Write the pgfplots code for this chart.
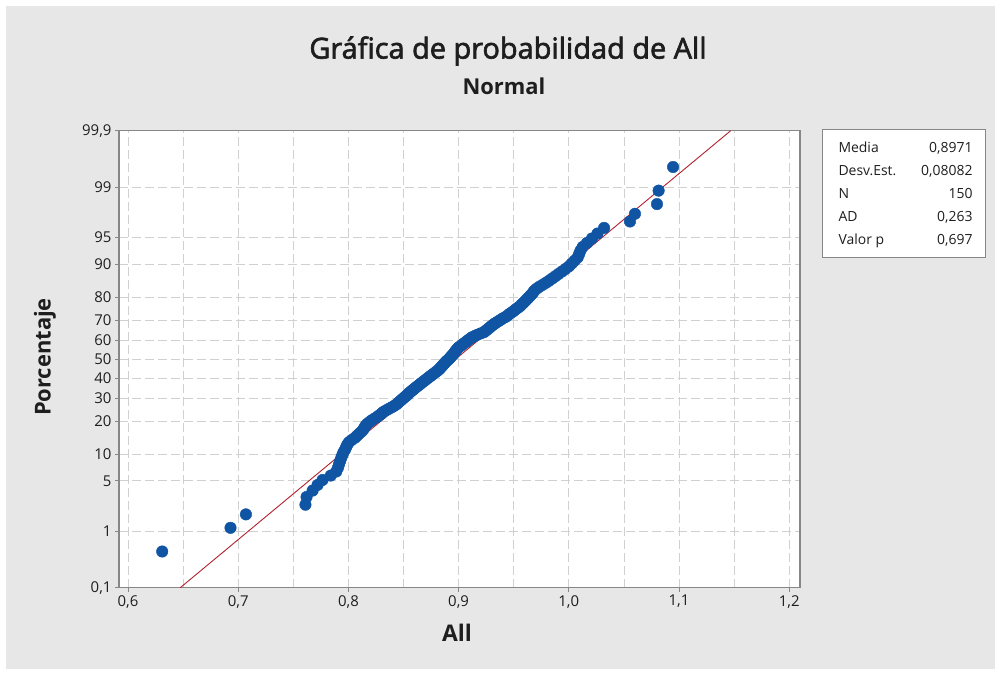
\documentclass[border=0pt]{standalone}
\usepackage{fontspec}
\setmainfont{Open Sans}
\newfontfamily\titlefont{Open Sans}[FakeBold=2.2]
\usepackage{pgfplots}
\pgfplotsset{compat=1.18}

\definecolor{panel}{RGB}{231,231,231}
\definecolor{mblue}{RGB}{16,84,164}
\definecolor{fitred}{RGB}{178,34,46}
\definecolor{gridgray}{RGB}{208,208,208}
\definecolor{framegray}{RGB}{135,135,135}
\definecolor{txt}{RGB}{30,30,30}

% x = All, z = normal score of the median rank (i-0.3)/(n+0.4)
\pgfplotstableread{
x z
0.631 -2.600
0.693 -2.280
0.707 -2.098
0.761 -1.967
0.762 -1.863
0.7675 -1.776
0.772 -1.700
0.7765 -1.633
0.784 -1.573
0.789 -1.518
0.7905 -1.467
0.7915 -1.420
0.7925 -1.376
0.7935 -1.334
0.7945 -1.295
0.7955 -1.257
0.797 -1.221
0.798 -1.187
0.799 -1.154
0.8005 -1.122
0.803 -1.091
0.806 -1.061
0.808 -1.032
0.810 -1.004
0.812 -0.977
0.8135 -0.951
0.8145 -0.925
0.8155 -0.900
0.817 -0.875
0.819 -0.851
0.821 -0.827
0.8235 -0.804
0.826 -0.781
0.828 -0.759
0.830 -0.737
0.8315 -0.715
0.834 -0.693
0.8365 -0.672
0.839 -0.652
0.8415 -0.631
0.8435 -0.611
0.845 -0.591
0.8465 -0.571
0.848 -0.552
0.8495 -0.532
0.851 -0.513
0.8525 -0.494
0.854 -0.476
0.855 -0.457
0.8565 -0.439
0.858 -0.420
0.8595 -0.402
0.861 -0.384
0.8625 -0.366
0.864 -0.349
0.8655 -0.331
0.867 -0.313
0.8685 -0.296
0.870 -0.279
0.8715 -0.261
0.873 -0.244
0.8745 -0.227
0.876 -0.210
0.8775 -0.193
0.879 -0.176
0.8805 -0.159
0.882 -0.142
0.883 -0.125
0.884 -0.109
0.885 -0.092
0.886 -0.075
0.887 -0.058
0.888 -0.042
0.889 -0.025
0.8905 -0.008
0.8915 0.008
0.8925 0.025
0.8935 0.042
0.8945 0.058
0.8955 0.075
0.8965 0.092
0.897 0.109
0.898 0.125
0.899 0.142
0.900 0.159
0.9015 0.176
0.903 0.193
0.9045 0.210
0.906 0.227
0.9075 0.244
0.909 0.261
0.9105 0.279
0.912 0.296
0.9145 0.313
0.917 0.331
0.920 0.349
0.923 0.366
0.9245 0.384
0.926 0.402
0.9275 0.420
0.929 0.439
0.9305 0.457
0.932 0.476
0.934 0.494
0.936 0.513
0.938 0.532
0.940 0.552
0.9425 0.571
0.9445 0.591
0.946 0.611
0.948 0.631
0.950 0.652
0.9515 0.672
0.9535 0.693
0.9555 0.715
0.957 0.737
0.9585 0.759
0.960 0.781
0.9615 0.804
0.963 0.827
0.9645 0.851
0.966 0.875
0.9675 0.900
0.9685 0.925
0.9705 0.951
0.973 0.977
0.976 1.004
0.979 1.032
0.982 1.061
0.9848 1.091
0.9877 1.122
0.9907 1.154
0.9938 1.187
0.997 1.221
1.0002 1.257
1.0027 1.295
1.0053 1.334
1.008 1.376
1.0093 1.420
1.0105 1.467
1.0125 1.518
1.0165 1.573
1.021 1.633
1.026 1.700
1.032 1.776
1.0555 1.863
1.060 1.967
1.080 2.098
1.0815 2.280
1.0946 2.600
}\alldata

\begin{document}
\begin{tikzpicture}[x=1bp,y=1bp]
\fill[white] (0,0) rectangle (1001,675);
\fill[panel] (6,6) rectangle (995,669);

\begin{axis}[
  at={(108,118)}, anchor=south west,
  scale only axis,
  width=681bp, height=457bp,
  xmin=0.59183, xmax=1.2098,
  ymin=-3.0902, ymax=3.0902,
  axis background/.style={fill=white},
  axis line style={draw=framegray, line width=1.1pt},
  xtick={0.6,0.7,0.8,0.9,1.0,1.1,1.2},
  xticklabels={{0,6},{0,7},{0,8},{0,9},{1,0},{1,1},{1,2}},
  minor xtick={0.65,0.75,0.85,0.95,1.05,1.15},
  ytick={-3.0902,-2.3263,-1.6449,-1.2816,-0.8416,-0.5244,-0.2533,0,0.2533,0.5244,0.8416,1.2816,1.6449,2.3263,3.0902},
  yticklabels={{0,1},1,5,10,20,30,40,50,60,70,80,90,95,99,{99,9}},
  tick align=outside,
  major tick length=4bp,
  minor tick length=0pt,
  tick style={draw=framegray, line width=0.8pt},
  xtick pos=bottom, ytick pos=left,
  tick label style={font=\fontsize{15}{18}\selectfont, text=txt},
  grid=both,
  major grid style={draw=gridgray, line width=0.8pt, dash pattern=on 9bp off 4bp},
  minor grid style={draw=gridgray, line width=0.8pt, dash pattern=on 9bp off 4bp},
]
\addplot[fitred, line width=0.9pt] coordinates {(0.64735,-3.0902) (1.14685,3.0902)};
\addplot[only marks, mark=*, mark size=5.8pt,
  mark options={draw=mblue, fill=mblue}] table[x=x, y=z] {\alldata};
\end{axis}

% titles and axis labels
\node[text=txt, font=\titlefont\fontsize{29}{33}\selectfont] at (508,624) {Gráfica de probabilidad de All};
\node[text=txt, font=\bfseries\fontsize{22}{26}\selectfont] at (504,589) {Normal};
\node[text=txt, font=\bfseries\fontsize{23}{26}\selectfont] at (457,42) {All};
\node[text=txt, font=\bfseries\fontsize{22}{26}\selectfont, rotate=90] at (45,318) {Porcentaje};

% statistics box
\draw[framegray, fill=white, line width=0.9pt] (822.5,418) rectangle (985.5,545.5);
\begin{scope}[every node/.style={text=txt, font=\fontsize{14}{16}\selectfont}]
\node[anchor=base west] at (835,522) {Media};
\node[anchor=base west] at (835,499) {Desv.Est.};
\node[anchor=base west] at (835,476) {N};
\node[anchor=base west] at (835,453) {AD};
\node[anchor=base west] at (835,430) {Valor p};
\node[anchor=base east] at (976,522) {0,8971};
\node[anchor=base east] at (976,499) {0,08082};
\node[anchor=base east] at (976,476) {150};
\node[anchor=base east] at (976,453) {0,263};
\node[anchor=base east] at (976,430) {0,697};
\end{scope}
\end{tikzpicture}
\end{document}
